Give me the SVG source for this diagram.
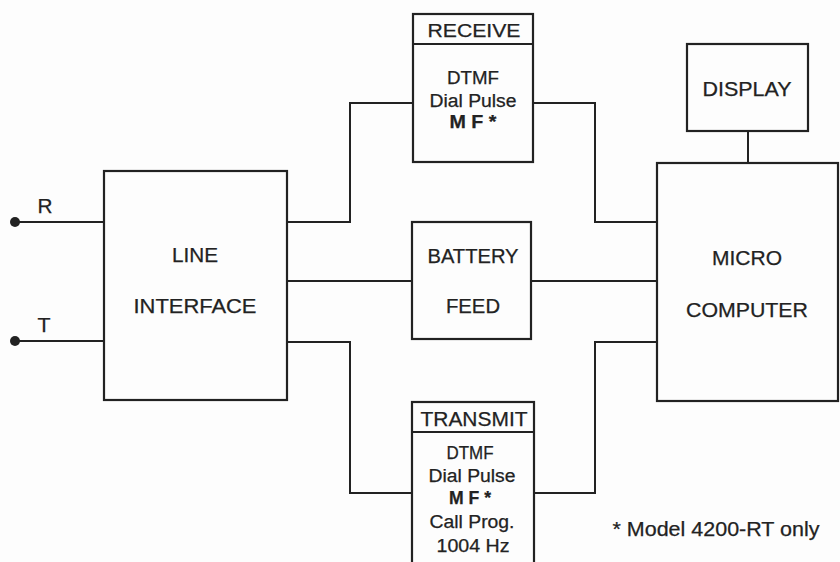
<svg xmlns="http://www.w3.org/2000/svg" width="840" height="562" viewBox="0 0 840 562">
<style>
.box{fill:none;stroke:#222;stroke-width:2.2}
.wire{fill:none;stroke:#222;stroke-width:2}
text{font-family:"Liberation Sans",Arial,sans-serif;fill:#222;text-anchor:middle;stroke:#222;stroke-width:0.25}
.lg{font-size:20px}
.md{font-size:18px}
.b{font-weight:bold}
</style>
<rect x="0" y="0" width="840" height="562" fill="#fdfdfd"/>
<g id="connectors">
<path class="wire" d="M15,222 H104"/>
<path class="wire" d="M15,341 H104"/>
<circle cx="15" cy="222" r="5" fill="#222"/>
<circle cx="15" cy="341" r="5" fill="#222"/>
<path class="wire" d="M287,222 H350 V103 H413"/>
<path class="wire" d="M287,281 H412"/>
<path class="wire" d="M287,342 H350 V493 H412"/>
<path class="wire" d="M533,103 H595 V222 H657"/>
<path class="wire" d="M531,281 H657"/>
<path class="wire" d="M534,493 H595 V342 H657"/>
<path class="wire" d="M748,131 V163"/>
<text class="lg" x="45" y="213" textLength="15" lengthAdjust="spacingAndGlyphs">R</text>
<text class="lg" x="44" y="332" textLength="13" lengthAdjust="spacingAndGlyphs">T</text>
</g>
<g id="line-interface">
<rect class="box" x="104" y="171" width="183" height="229"/>
<text class="lg" x="195" y="262" textLength="46" lengthAdjust="spacingAndGlyphs">LINE</text>
<text class="lg" x="195" y="313" textLength="123" lengthAdjust="spacingAndGlyphs">INTERFACE</text>
</g>
<g id="receive">
<rect class="box" x="413" y="14" width="120" height="148"/>
<path class="box" d="M413,44 H533"/>
<text class="md" x="474" y="37" textLength="93" lengthAdjust="spacingAndGlyphs">RECEIVE</text>
<text class="md" x="473" y="84" textLength="52" lengthAdjust="spacingAndGlyphs">DTMF</text>
<text class="md" x="473" y="107" textLength="87" lengthAdjust="spacingAndGlyphs">Dial Pulse</text>
<text class="md b" x="473" y="128" textLength="47" lengthAdjust="spacingAndGlyphs">M F *</text>
</g>
<g id="battery-feed">
<rect class="box" x="412" y="222" width="119" height="117"/>
<text class="lg" x="473" y="263" textLength="91" lengthAdjust="spacingAndGlyphs">BATTERY</text>
<text class="lg" x="473" y="313" textLength="54" lengthAdjust="spacingAndGlyphs">FEED</text>
</g>
<g id="transmit">
<rect class="box" x="412" y="402" width="122" height="175"/>
<path class="box" d="M412,432 H534"/>
<text class="lg" x="474" y="426" textLength="107" lengthAdjust="spacingAndGlyphs">TRANSMIT</text>
<text class="md" x="470" y="459" textLength="47" lengthAdjust="spacingAndGlyphs">DTMF</text>
<text class="md" x="472" y="482" textLength="87" lengthAdjust="spacingAndGlyphs">Dial Pulse</text>
<text class="md b" x="470" y="504" textLength="42" lengthAdjust="spacingAndGlyphs">M F *</text>
<text class="md" x="472" y="528" textLength="85" lengthAdjust="spacingAndGlyphs">Call Prog.</text>
<text class="md" x="473" y="552" textLength="73" lengthAdjust="spacingAndGlyphs">1004 Hz</text>
</g>
<g id="display">
<rect class="box" x="687" y="44" width="121" height="87"/>
<text class="lg" x="747" y="96" textLength="89" lengthAdjust="spacingAndGlyphs">DISPLAY</text>
</g>
<g id="microcomputer">
<rect class="box" x="657" y="163" width="181" height="238"/>
<text class="lg" x="747" y="265" textLength="70" lengthAdjust="spacingAndGlyphs">MICRO</text>
<text class="lg" x="747" y="317" textLength="122" lengthAdjust="spacingAndGlyphs">COMPUTER</text>
</g>
<g id="footnote">
<text class="lg" x="716" y="536" textLength="207" lengthAdjust="spacingAndGlyphs">* Model 4200-RT only</text>
</g>
</svg>
